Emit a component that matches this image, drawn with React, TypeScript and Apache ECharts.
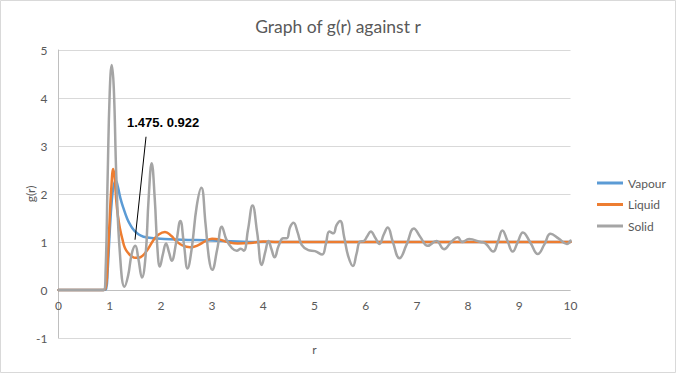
import React, { useEffect, useRef } from "react";
import * as echarts from "echarts";

const chartTitle = "Graph of g(r) against r";
const xName = "r";
const yName = "g(r)";
const seriesNames = ["Vapour", "Liquid", "Solid"];
const seriesColors = ["#5B9BD5", "#ED7D31", "#A5A5A5"];

const vapourR = [0, 0.88, 0.93, 0.96, 1.0, 1.04, 1.08, 1.12, 1.16, 1.21, 1.27, 1.34, 1.4, 1.47, 1.56, 1.66, 1.86, 2.3, 2.7, 3.0, 3.5, 4.0, 5, 6, 7, 8, 9, 10];
const vapourG = [0, 0, 0.02, 0.4, 1.2, 1.85, 2.18, 2.27, 2.15, 1.91, 1.7, 1.49, 1.36, 1.25, 1.16, 1.11, 1.08, 1.05, 1.04, 1.03, 1.01, 1.0, 1, 1, 1, 1, 1, 1];

const liquidR = [0, 0.88, 0.93, 0.96, 0.99, 1.03, 1.07, 1.1, 1.13, 1.16, 1.2, 1.25, 1.3, 1.37, 1.43, 1.5, 1.56, 1.65, 1.75, 1.85, 1.95, 2.08, 2.2, 2.3, 2.42, 2.57, 2.72, 2.87, 3.0, 3.15, 3.3, 3.5, 3.75, 4.0, 4.3, 5, 6, 7, 8, 9, 10];
const liquidG = [0, 0, 0.1, 0.6, 1.26, 2.1, 2.52, 2.3, 1.84, 1.55, 1.28, 1.05, 0.87, 0.76, 0.7, 0.67, 0.67, 0.72, 0.86, 1.03, 1.15, 1.21, 1.13, 1.02, 0.93, 0.89, 0.93, 1.02, 1.07, 1.05, 1.0, 0.97, 0.98, 1.01, 1.0, 1, 1, 1, 1, 1, 1];

const solidR = [0, 0.88, 0.92, 0.96, 1.0, 1.04, 1.08, 1.13, 1.2, 1.29, 1.36, 1.43, 1.5, 1.56, 1.63, 1.7, 1.76, 1.82, 1.88, 1.93, 1.98, 2.04, 2.1, 2.16, 2.21, 2.3, 2.38, 2.45, 2.52, 2.6, 2.7, 2.79, 2.87, 2.94, 3.0, 3.1, 3.19, 3.28, 3.39, 3.48, 3.56, 3.62, 3.7, 3.79, 3.88, 3.97, 4.04, 4.1, 4.16, 4.22, 4.3, 4.39, 4.46, 4.52, 4.59, 4.67, 4.75, 4.88, 5.01, 5.15, 5.22, 5.29, 5.37, 5.43, 5.5, 5.58, 5.66, 5.75, 5.82, 5.89, 5.96, 6.03, 6.1, 6.18, 6.27, 6.35, 6.43, 6.53, 6.66, 6.8, 6.94, 7.07, 7.21, 7.38, 7.53, 7.67, 7.8, 7.88, 8.02, 8.24, 8.34, 8.49, 8.58, 8.67, 8.77, 8.87, 8.97, 9.07, 9.22, 9.36, 9.49, 9.61, 9.77, 9.93, 10.0];
const solidG = [0, 0, 0.4, 2.35, 4.1, 4.69, 4.2, 2.35, 0.75, 0.07, 0.3, 0.75, 0.92, 0.65, 0.26, 0.7, 1.9, 2.64, 1.9, 0.9, 0.49, 0.75, 0.97, 0.78, 0.61, 1.0, 1.44, 0.95, 0.45, 0.85, 1.75, 2.13, 1.4, 0.65, 0.42, 0.85, 1.32, 1.05, 0.87, 0.82, 0.86, 0.82, 1.25, 1.76, 1.2, 0.52, 0.8, 1.02, 0.85, 0.68, 0.92, 1.08, 1.08, 1.3, 1.4, 1.2, 0.94, 0.83, 0.81, 0.74, 0.95, 1.22, 1.18, 1.35, 1.44, 1.1, 0.7, 0.5, 0.75, 1.01, 1.02, 1.12, 1.22, 1.1, 0.96, 1.15, 1.3, 1.0, 0.66, 0.95, 1.28, 1.1, 0.92, 1.02, 0.85, 1.0, 1.1, 1.0, 1.06, 1.0, 0.97, 0.8, 1.0, 1.24, 1.02, 0.8, 1.0, 1.2, 0.98, 0.75, 0.95, 1.17, 1.07, 0.96, 1.03];

const annotR = 1.475;
const annotG = 0.922;
const annotLabel = "1.475. 0.922";

const pairs = (r: number[], g: number[]) => r.map((v, i) => [v, g[i]]);

export default function App() {
  const ref = useRef<HTMLDivElement>(null);
  useEffect(() => {
    document.body.style.margin = "0";
    if (!ref.current) return;
    const chart = echarts.init(ref.current, undefined, { renderer: "svg" });
    const txt = "#595959";
    const font = "Lato";
    const data = [pairs(vapourR, vapourG), pairs(liquidR, liquidG), pairs(solidR, solidG)];
    const border = {
      type: "rect",
      id: "border",
      shape: { x: 0.5, y: 0.5, width: 675, height: 372 },
      style: { fill: "none", stroke: "#D9D9D9", lineWidth: 1 },
      silent: true,
    };
    chart.setOption({
      animation: false,
      backgroundColor: "#ffffff",
      title: {
        text: chartTitle,
        left: "center",
        top: 12,
        textStyle: { fontFamily: font, fontSize: 17.5, fontWeight: "normal", color: txt },
      },
      grid: { left: 58.5, top: 50, width: 512, height: 288, outerBoundsMode: "none", containLabel: false },
      legend: {
        orient: "vertical",
        left: 592,
        top: 171,
        itemWidth: 26,
        itemHeight: 3,
        itemGap: 7.5,
        icon: "rect",
        data: seriesNames,
        textStyle: { fontFamily: font, fontSize: 12, color: txt, lineHeight: 14 },
      },
      xAxis: {
        type: "value",
        min: 0,
        max: 10,
        interval: 1,
        name: xName,
        nameLocation: "middle",
        nameGap: 5,
        nameMoveOverlap: false,
        nameTextStyle: { fontFamily: font, fontSize: 12, color: txt, verticalAlign: "top" },
        axisLine: { onZero: false, lineStyle: { color: "#D9D9D9", width: 1 } },
        axisTick: { show: false },
        axisLabel: { fontFamily: font, fontSize: 12, color: txt, inside: true, margin: 27 },
        splitLine: { show: false },
      },
      yAxis: {
        type: "value",
        min: -1,
        max: 5,
        interval: 1,
        name: yName,
        nameLocation: "middle",
        nameGap: 22,
        nameRotate: 90,
        nameMoveOverlap: false,
        nameTextStyle: { fontFamily: font, fontSize: 12, color: txt },
        axisLine: { show: true, onZero: false, lineStyle: { color: "#BFBFBF", width: 1 } },
        axisTick: { show: false },
        axisLabel: { fontFamily: font, fontSize: 12, color: txt, margin: 11 },
        splitLine: { lineStyle: { color: "#D9D9D9", width: 1 } },
      },
      series: seriesNames.map((n, i) => ({
        name: n,
        type: "line",
        data: data[i],
        showSymbol: false,
        smooth: 0.45,
        color: seriesColors[i],
        lineStyle: { width: 2.5, color: seriesColors[i], cap: "round", join: "round" },
        z: 2 + i,
        markLine:
          i === 0
            ? {
                silent: true,
                symbol: "none",
                label: { show: false },
                lineStyle: { color: "#BFBFBF", type: "solid", width: 1 },
                data: [{ yAxis: 0 }],
                z: 1,
              }
            : undefined,
      })),
      graphic: [border],
    });
    const p = chart.convertToPixel({ xAxisIndex: 0, yAxisIndex: 0 }, [annotR, annotG]) as number[];
    chart.setOption({
      graphic: [
        border,
        {
          type: "line",
          id: "leader",
          shape: { x1: p[0] + 1, y1: p[1] - 6, x2: p[0] + 12, y2: p[1] - 109 },
          style: { stroke: "#000000", lineWidth: 1 },
          z: 10,
        },
        {
          type: "text",
          id: "annot",
          x: p[0] - 7,
          y: p[1] - 123,
          style: {
            text: annotLabel,
            fontFamily: "Liberation Sans",
            fontSize: 13,
            fontWeight: "bold",
            fill: "#000000",
            verticalAlign: "middle",
          },
          z: 10,
        },
      ],
    });
    return () => chart.dispose();
  }, []);
  return <div ref={ref} style={{ width: 676, height: 373 }} />;
}
